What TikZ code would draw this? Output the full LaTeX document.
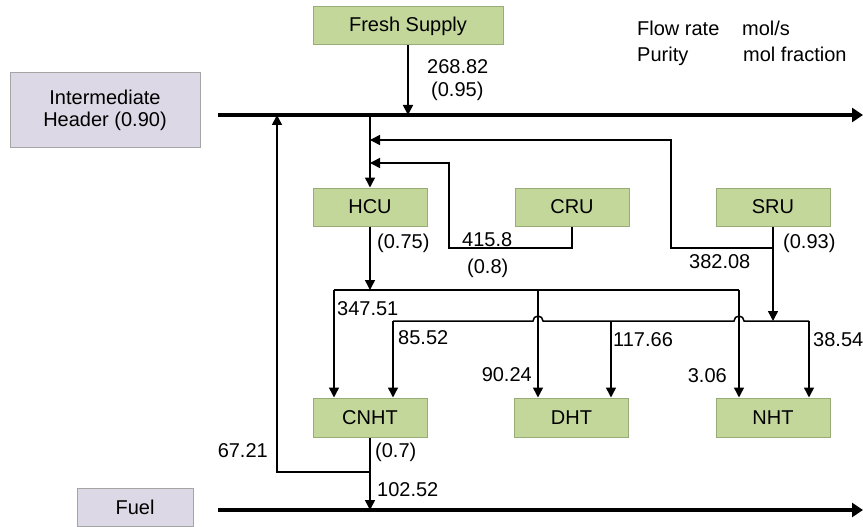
\documentclass[tikz,border=0pt]{standalone}
\usepackage{fontspec}
\setmainfont{Liberation Sans}
\usetikzlibrary{arrows.meta}
\definecolor{boxgreen}{HTML}{C4D79B}
\definecolor{boxgreenedge}{HTML}{98AC78}
\definecolor{boxlav}{HTML}{DDD8E5}
\definecolor{boxlavedge}{HTML}{A5A5A5}
\begin{document}
\begin{tikzpicture}[x=1pt,y=-1pt,
  font=\fontsize{20}{22}\selectfont,
  unit/.style={draw=boxgreenedge, fill=boxgreen, line width=1pt, minimum width=114pt, minimum height=38pt, inner sep=0pt},
  hdrbox/.style={draw=boxlavedge, fill=boxlav, line width=1pt, inner sep=0pt, align=center},
  flow/.style={line width=1.5pt, -{Triangle[length=10pt,width=10pt]}},
  pipe/.style={line width=1.5pt},
  main/.style={line width=3.5pt, -{Triangle[length=11pt,width=14pt]}},
  lab/.style={anchor=base west, inner sep=0pt},
  labr/.style={anchor=base east, inner sep=0pt}]
\useasboundingbox (0,0) rectangle (863,527);

% boxes
\node[unit, minimum width=190pt] (fresh) at (408,26) {Fresh Supply};
\node[unit] (hcu) at (370,207) {HCU};
\node[unit] (cru) at (572,207) {CRU};
\node[unit] (sru) at (773,207) {SRU};
\node[unit, minimum height=39pt] (cnht) at (370,417.5) {CNHT};
\node[unit, minimum height=39pt] (dht) at (571.5,417.5) {DHT};
\node[unit, minimum height=39pt] (nht) at (773,417.5) {NHT};
\node[hdrbox, minimum width=190pt, minimum height=74pt] (ih) at (105,110) {Intermediate\\Header (0.90)};
\node[hdrbox, minimum width=116pt, minimum height=38pt] (fuel) at (135,507) {Fuel};

% headers
\coordinate (hL) at (218,115); \coordinate (hR) at (863,115);
\coordinate (fL) at (218,510); \coordinate (fR) at (863,510);
\draw[main] (hL) -- (hR);
\draw[main] (fL) -- (fR);

% fresh supply
\draw[flow] (fresh.south) -- (fresh.south |- hL);

% header to HCU
\coordinate (hd) at (370,115);
\draw[flow] (hd) -- (hcu.north);

% SRU
\coordinate (s1) at (773,248); \coordinate (s2) at (671,248);
\coordinate (s3) at (671,140); \coordinate (s4) at (370,140);
\coordinate (s5) at (773,321);
\draw[flow] (sru.south) -- (s5);
\draw[flow] (s1) -- (s2) -- (s3) -- (s4);

% CRU
\coordinate (c1) at (572,248); \coordinate (c2) at (449,248);
\coordinate (c3) at (449,163); \coordinate (c4) at (370,163);
\draw[flow] (cru.south) -- (c1) -- (c2) -- (c3) -- (c4);

% HCU out
\coordinate (h1) at (370,290);
\draw[flow] (hcu.south) -- (h1);
\coordinate (aL) at (334,290); \coordinate (aM) at (538,290); \coordinate (aR) at (739,290);
\draw[pipe] (aL) -- (aR);
\draw[flow] (aL) -- (aL |- cnht.north);
\draw[flow] (aM) -- (aM |- dht.north);
\draw[flow] (aR) -- (aR |- nht.north);

% SRU distribution line with hops
\coordinate (bL) at (393,321); \coordinate (bM) at (611,321); \coordinate (bR) at (809,321);
\draw[pipe] (bL) -- (533,321) arc[start angle=180,end angle=360,radius=5]
  -- (734,321) arc[start angle=180,end angle=360,radius=5] -- (bR);
\draw[flow] (bL) -- (bL |- cnht.north);
\draw[flow] (bM) -- (bM |- dht.north);
\draw[flow] (bR) -- (bR |- nht.north);

% CNHT out
\coordinate (n1) at (370,472); \coordinate (n2) at (277,472);
\draw[flow] (cnht.south) -- (cnht.south |- fL);
\draw[flow] (n1) -- (n2) -- (n2 |- hL);

% labels
\node[lab] (l1) at (427,74) {268.82};
\node[lab] (l2) at (431,96) {(0.95)};
\node[lab] (lg1) at (637,36) {Flow rate};
\node[lab] (lg2) at (742,36) {mol/s};
\node[lab] (lg3) at (637,62) {Purity};
\node[lab] (lg4) at (743,62) {mol fraction};
\node[lab] (l3) at (377,248) {(0.75)};
\node[lab] (l4) at (462,246) {415.8};
\node[lab] (l5) at (467,273) {(0.8)};
\node[lab] (l6) at (783,248) {(0.93)};
\node[lab] (l7) at (689,268) {382.08};
\node[lab] (l8) at (337,315) {347.51};
\node[lab] (l9) at (398,344) {85.52};
\node[labr] (l10) at (532,381) {90.24};
\node[lab] (l11) at (613,346) {117.66};
\node[labr] (l12) at (727,382) {3.06};
\node[lab] (l13) at (813,346) {38.54};
\node[labr] (l14) at (268,457) {67.21};
\node[lab] (l15) at (375,457) {(0.7)};
\node[lab] (l16) at (377,496) {102.52};
\end{tikzpicture}
\end{document}
